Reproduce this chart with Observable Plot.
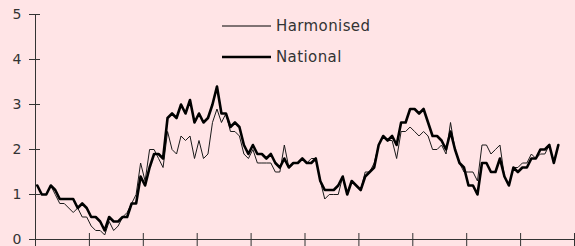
<!DOCTYPE html>
<html>
<head>
<meta charset="utf-8">
<script src="https://cdn.jsdelivr.net/npm/d3@7"></script>
<script src="https://cdn.jsdelivr.net/npm/@observablehq/plot@0.6"></script>
<style>
  html, body { margin: 0; padding: 0; background: #ffe4e6; }
  #wrap { position: relative; width: 575px; height: 246px; }
  .leg { position: absolute; left: 222px; font-family: "DejaVu Sans", sans-serif; font-size: 15px; letter-spacing: 0.4px; color: #333; display: flex; align-items: center; }
  .leg svg { margin-right: 5px; }
</style>
</head>
<body>
<div id="wrap"></div>
<script>
// Monthly index (0 = first month), values in %
const national = [1.2,1.0,1.0,1.2,1.1,0.9,0.9,0.9,0.9,0.7,0.8,0.7,0.5,0.5,0.4,0.2,0.5,0.4,0.4,0.5,0.5,0.8,0.8,1.4,1.2,1.6,1.9,1.9,1.8,2.7,2.8,2.7,3.0,2.8,3.1,2.6,2.8,
  2.6,2.7,3.0,3.4,2.8,2.8,2.5,2.6,2.5,2.1,1.9,2.1,1.9,1.9,1.8,1.9,1.7,1.6,1.8,1.6,1.7,1.7,1.8,1.7,1.7,1.8,1.3,1.1,1.1,1.1,1.2,1.4,1.0,1.3,1.2,1.1,1.4,1.5,1.6,2.1,
  2.3,2.2,2.3,2.1,2.6,2.6,2.9,2.9,2.8,2.9,2.6,2.3,2.3,2.2,2.0,2.4,2.0,1.7,1.6,1.2,1.2,1.0,1.7,1.7,1.5,1.5,1.8,1.4,1.2,1.6,1.5,1.6,1.6,1.8,1.8,2.0,2.0,2.1,1.7,2.1];
const harmonised = [1.2,1.0,1.0,1.2,1.0,0.8,0.8,0.7,0.6,0.7,0.5,0.5,0.3,0.2,0.2,0.1,0.4,0.2,0.3,0.5,0.6,0.8,1.0,1.7,1.3,2.0,2.0,1.8,1.6,2.4,2.0,1.9,2.3,2.2,2.3,1.8,2.2,
  1.8,1.9,2.6,2.9,2.6,2.8,2.4,2.4,2.3,1.9,1.8,2.0,1.7,1.7,1.7,1.7,1.5,1.5,2.1,1.6,1.7,1.7,1.8,1.7,1.8,1.8,1.3,0.9,1.0,1.0,1.0,1.4,1.0,1.3,1.2,1.1,1.5,1.5,1.7,2.1,
  2.3,2.2,2.2,1.8,2.4,2.4,2.5,2.4,2.3,2.4,2.3,2.0,2.0,2.1,1.9,2.6,2.0,1.7,1.5,1.5,1.5,1.3,2.1,2.1,1.9,2.0,2.1,1.4,1.2,1.6,1.6,1.7,1.7,1.9,1.8,1.9,1.9,2.1];
const yTicks = [0,1,2,3,4,5];
const xTicks = [0,12,24,36,48,60,72,84,96,108,120];
const seriesNames = ["Harmonised","National"];

const natData = national.map((v,i) => ({m: i + 0.4, v}));
const harData = harmonised.map((v,i) => ({m: i + 0.4, v}));

const chart = Plot.plot({
  width: 575,
  height: 246,
  marginLeft: 35,
  marginRight: 1,
  marginTop: 14,
  marginBottom: 7,
  style: {background: "#ffe4e6", fontFamily: "DejaVu Sans, sans-serif", fontSize: "14px", color: "#333", overflow: "visible"},
  x: {domain: [0,120], label: null},
  y: {domain: [0,5], label: null},
  marks: [
    Plot.ruleX([0], {y1: 0, y2: 5, stroke: "#333"}),
    Plot.ruleY([0], {stroke: "#333"}),
    Plot.axisY({ticks: yTicks, tickSize: 11, dx: 5, tickPadding: 8, stroke: "#333", fill: "#333", fontSize: 14, label: null, tickFormat: d => String(d)}),
    Plot.axisX({ticks: xTicks, tickSize: 13, dy: -6, stroke: "#333", label: null, tickFormat: () => ""}),
    Plot.line(harData, {x: "m", y: "v", stroke: "#1a1a1a", strokeWidth: 1}),
    Plot.line(natData, {x: "m", y: "v", stroke: "#000", strokeWidth: 2.6})
  ]
});
const wrap = document.getElementById("wrap");
wrap.appendChild(chart);

const legendWidths = [1, 2.6];
const legendTops = [17, 48];
seriesNames.forEach((name, k) => {
  const d = document.createElement("div");
  d.className = "leg";
  d.style.top = legendTops[k] + "px";
  d.innerHTML = `<svg width="49" height="18"><line x1="0" x2="49" y1="9" y2="9" stroke="#000" stroke-width="${legendWidths[k]}"/></svg><span>${name}</span>`;
  wrap.appendChild(d);
});
</script>
</body>
</html>
